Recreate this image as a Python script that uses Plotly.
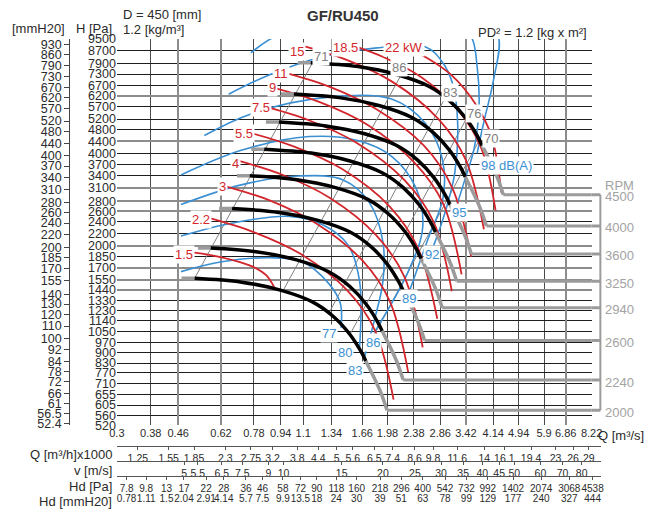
import numpy as np
import plotly.graph_objects as go

# ---------------- data ----------------
H_PA = [9500, 8700, 7900, 7300, 6700, 6200, 5700, 5200, 4800, 4400, 4000, 3700, 3400, 3100,
        2800, 2600, 2400, 2200, 2000, 1850, 1700, 1550, 1440, 1330, 1230, 1140, 1050, 970,
        900, 830, 770, 710, 655, 605, 560, 520]
H_MM = [930, 860, 790, 730, 670, 620, 570, 520, 480, 440, 400, 370, 340, 310, 280, 260, 240,
        220, 200, 185, 170, 155, 140, 130, 120, 110, 100, 92, 84, 78, 72, 66, 61, 56.5, 52.4]
Q_M3S = [0.3, 0.38, 0.46, 0.62, 0.78, 0.94, 1.1, 1.34, 1.66, 1.98, 2.38, 2.86, 3.42, 4.14,
         4.94, 5.9, 6.86, 8.22]
# grid lines drawn heavier and grey
GREY_GRID_PA = [6200, 4400, 3100, 2800, 2600, 2000, 1700, 1550, 1440]
GREY_GRID_Q = [0.46, 0.62, 3.42, 6.86]

Q_M3H = [1.25, 1.55, 1.85, 2.3, 2.75, 3.2, 3.8, 4.4, 5, 5.6, 6.5, 7.4, 8.6, 9.8, 11.6, 14,
         16.1, 19.4, 23, 26, 29]
V_MS = [5, 5.5, 6.5, 7.5, 9, 10, 15, 20, 25, 30, 35, 40, 45, 50, 60, 70, 80]
HD_PA = [7.8, 9.8, 13, 17, 22, 28, 36, 46, 58, 72, 90, 118, 160, 218, 296, 400, 542, 732,
         992, 1402, 2074, 3068, 4538]
HD_MM = [0.78, 1.11, 1.5, 2.04, 2.91, 4.14, 5.7, 7.5, 9.9, 13.5, 18, 24, 30, 39, 51, 63, 78,
         99, 129, 177, 240, 327, 444]
# where the Hd labels sit on the flow scale (m3/s)
HD_AT_Q = [0.321, 0.368, 0.424, 0.479, 0.559, 0.632, 0.738, 0.828, 0.955, 1.079, 1.210, 1.386,
           1.597, 1.880, 2.181, 2.531, 2.958, 3.433, 3.984, 4.752, 5.782, 7.035, 8.277]
V_PER_Q = 10.43    # outlet velocity per m3/s
MMH2O = 9.80665

FAN_RPM = [4500, 4000, 3600, 3250, 2940, 2600, 2240, 2000]
# per curve: [grey start, black 1..8, grey end..]
FAN_Q = [
    [1.06, 1.16, 1.61, 2.11, 2.64, 3.06, 3.43, 3.70, 3.83, 4.23, 4.44],
    [0.942, 1.031, 1.431, 1.876, 2.347, 2.720, 3.049, 3.289, 3.404, 3.760, 3.947],
    [0.848, 0.928, 1.288, 1.688, 2.112, 2.448, 2.744, 2.960, 3.064, 3.384, 3.552],
    [0.766, 0.838, 1.163, 1.524, 1.907, 2.210, 2.477, 2.672, 2.766, 3.055, 3.207],
    [0.693, 0.758, 1.052, 1.378, 1.725, 1.999, 2.241, 2.417, 2.502, 2.763, 2.901],
    [0.612, 0.670, 0.930, 1.219, 1.525, 1.768, 1.982, 2.138, 2.213, 2.444, 2.565],
    [0.528, 0.577, 0.801, 1.050, 1.314, 1.523, 1.707, 1.842, 1.907, 2.106, 2.210],
    [0.471, 0.516, 0.716, 0.938, 1.173, 1.360, 1.524, 1.644, 1.702, 1.880, 1.973],
]
FAN_P = [
    [7950, 7950, 7720, 7275, 6660, 5955, 5212, 4594, 4266, 3415, 2945],
    [6281, 6281, 6100, 5748, 5262, 4705, 4118, 3630, 3371, 2698, 2327],
    [5088, 5088, 4941, 4656, 4262, 3811, 3336, 2940, 2730, 2186, 1885],
    [4147, 4147, 4027, 3795, 3474, 3106, 2719, 2396, 2225, 1781, 1536],
    [3393, 3393, 3295, 3105, 2843, 2542, 2224, 1961, 1821, 1458, 1257],
    [2654, 2654, 2577, 2428, 2223, 1988, 1740, 1533, 1424, 1140, 983],
    [1970, 1970, 1913, 1803, 1650, 1476, 1292, 1138, 1057, 846, 730],
    [1570, 1570, 1525, 1437, 1315, 1176, 1029, 907, 843, 674, 582],
]
BRACKET_Q = 8.74

# absorbed power lines (kW)
KW_LABELS = ["1.5", "2.2", "3", "4", "5.5", "7.5", "9", "11", "15", "18.5", "22 kW"]
KW_Q = [
    [0.492, 0.571, 0.667, 0.774, 0.851, 0.905],
    [0.563, 0.779, 1.079, 1.493, 1.817, 2.066],
    [0.632, 0.874, 1.202, 1.664, 2.011, 2.287],
    [0.690, 0.955, 1.322, 1.829, 2.226, 2.531],
    [0.738, 1.029, 1.443, 2.011, 2.447, 2.802],
    [0.828, 1.154, 1.608, 2.226, 2.727, 3.101],
    [0.886, 1.235, 1.721, 2.382, 2.918, 3.319],
    [0.942, 1.313, 1.829, 2.549, 3.101, 3.551],
    [1.071, 1.483, 2.038, 2.821, 3.410, 3.878],
    [1.503, 1.944, 2.514, 3.252, 3.800, 4.207],
    [2.181, 2.601, 3.101, 3.674, 4.094, 4.380],
]
KW_P = [
    [1916, 1873, 1805, 1714, 1604, 1446],
    [2483, 2223, 1887, 1435, 1058, 630],
    [3148, 2817, 2376, 1792, 1322, 775],
    [3817, 3415, 2879, 2173, 1591, 934],
    [4733, 4234, 3571, 2694, 1973, 1158],
    [5739, 5136, 4330, 3291, 2410, 1424],
    [6607, 5912, 4985, 3761, 2755, 1616],
    [7439, 6656, 5613, 4266, 3125, 1846],
    [9087, 8130, 6907, 5212, 3846, 2271],
    [9154, 8252, 7115, 5530, 4204, 2615],
    [9020, 8252, 7221, 5782, 4560, 2989],
]
KW_LABEL_Q = [0.479, 0.541, 0.628, 0.685, 0.728, 0.817, 0.886, 0.942, 1.050, 1.473, 2.226]
KW_LABEL_P = [1873, 2447, 3125, 3733, 4663, 5655, 6607, 7329, 8627, 8887, 8887]

# noise lines dB(A)
DB_LABELS = ["77", "80", "83", "86", "89", "92", "95", "98 dB(A)"]
DB_Q = [
    [0.469, 0.623, 0.874, 1.093, 1.313, 1.424, 1.433],
    [0.469, 0.667, 1.001, 1.269, 1.503, 1.630, 1.630],
    [0.469, 0.714, 1.071, 1.453, 1.745, 1.918, 1.918, 1.805, 1.686],
    [0.469, 0.714, 1.146, 1.608, 2.038, 2.414, 2.531, 2.287, 1.805],
    [0.552, 0.764, 1.313, 2.038, 2.583, 2.898, 2.918, 2.619, 2.318],
    [0.654, 0.874, 1.227, 1.842, 2.583, 2.898, 3.122, 3.230, 3.165, 2.958, 2.709],
    [0.764, 0.886, 1.071, 1.842, 3.165, 3.551, 3.699, 3.749, 3.624, 3.387, 3.208],
    [1.071, 2.414, 3.878, 4.292, 4.150, 3.878, 3.699],
]
DB_P = [
    [1651, 1778, 1832, 1778, 1511, 1303, 1082],
    [2157, 2376, 2502, 2341, 2018, 1533, 934],
    [2734, 3171, 3390, 3291, 2775, 2063, 1533, 1140, 866],
    [3415, 4111, 4560, 4427, 3932, 3101, 2305, 1651, 1043],
    [4594, 5408, 6135, 6044, 5022, 3874, 2879, 2094, 1446],
    [6272, 7275, 8252, 8887, 8953, 8010, 6755, 5022, 3466, 2577, 1959],
    [8564, 9570, 10307, 10540, 10540, 9642, 7719, 5739, 4172, 3267, 2714],
    [10937, 11350, 10937, 9642, 7010, 5098, 4020],
]
DB_LABEL_Q = [1.313, 1.473, 1.576, 1.792, 2.302, 2.709, 3.252, 3.749]
DB_LABEL_P = [1035, 899, 787, 969, 1352, 1873, 2577, 3677]

# efficiency lines
EFF_LABELS = ["71", "86", "83", "76", "70"]
EFF_Q = [[0.516, 1.20], [0.955, 2.20], [1.314, 2.96], [1.524, 3.43], [1.671, 3.76]]
EFF_P = [[1570, 8300], [1428, 7400], [1205, 6100], [1029, 5212], [879, 4450]]
EFF_LABEL_Q = [1.244, 2.152, 3.060, 3.624, 4.067]
EFF_LABEL_P = [8313, 7661, 6366, 5408, 4493]

# ---------------- layout geometry ----------------
W, H = 662, 515
ML, MR, MT, MB = 5, 5, 39, 5
PW, PH = W - ML - MR, H - MT - MB


def fx(px):
    return (px - ML) / PW


def fy(py):
    return (H - MB - py) / PH


FONT = "Liberation Sans, Arial, sans-serif"
TXT = "#2b2b2b"
RED = "#d3262c"
BLUE = "#3b8fd3"
GREY = "#9b9b9b"
EFFC = "#808080"

XR = [np.log10(0.3), np.log10(8.22)]
YR = [np.log10(520), np.log10(9500)]
XDOM = [fx(112), fx(601)]
YDOM = [fy(431), 1.0]
XROW_END = fx(611)
XROW_R = XR[0] + (XR[1] - XR[0]) * (611 - 112) / (601 - 112)

fig = go.Figure()

for q, p in zip(EFF_Q, EFF_P):
    fig.add_trace(go.Scatter(x=q, y=p, mode="lines", line=dict(color=EFFC, width=1)))

for q, p in zip(DB_Q, DB_P):
    fig.add_trace(go.Scatter(x=q, y=p, mode="lines",
                             line=dict(color=BLUE, width=1.6, shape="spline", smoothing=1)))

for q, p in zip(KW_Q, KW_P):
    fig.add_trace(go.Scatter(x=q, y=p, mode="lines",
                             line=dict(color=RED, width=1.8, shape="spline", smoothing=1)))

for q, p in zip(FAN_Q, FAN_P):
    fig.add_trace(go.Scatter(x=q[0:2], y=p[0:2], mode="lines", line=dict(color=GREY, width=3.5)))
    fig.add_trace(go.Scatter(x=q[8:], y=p[8:], mode="lines",
                             line=dict(color=GREY, width=3.5, shape="spline")))
    fig.add_trace(go.Scatter(x=[q[-1], BRACKET_Q], y=[p[-1], p[-1]], mode="lines",
                             line=dict(color=GREY, width=3)))
    fig.add_trace(go.Scatter(x=q[1:9], y=p[1:9], mode="lines",
                             line=dict(color="black", width=3.5, shape="spline", smoothing=1)))

# empty traces so that the extra axes get drawn
fig.add_trace(go.Scatter(x=[None], y=[None], xaxis="x", yaxis="y2"))
fig.add_trace(go.Scatter(x=[None], y=[None], xaxis="x6", yaxis="y4"))
for ax in ["x2", "x3", "x4", "x5"]:
    fig.add_trace(go.Scatter(x=[None], y=[None], xaxis=ax, yaxis="y3"))

fig.update_traces(showlegend=False, hoverinfo="skip")

ann = []


def dlabel(text, q, p, color, xanchor="center"):
    ann.append(dict(x=np.log10(q), y=np.log10(p), xref="x", yref="y", text=text,
                    showarrow=False, font=dict(color=color, size=13, family=FONT),
                    bgcolor="white", borderpad=1, xanchor=xanchor))


for t, q, p in zip(KW_LABELS, KW_LABEL_Q, KW_LABEL_P):
    dlabel(t, q, p, RED)
for t, q, p in zip(DB_LABELS, DB_LABEL_Q, DB_LABEL_P):
    dlabel(t, q, p, BLUE, "left" if "dB" in t else "center")
for t, q, p in zip(EFF_LABELS, EFF_LABEL_Q, EFF_LABEL_P):
    dlabel(t, q, p, EFFC)

for rpm, p in zip(FAN_RPM, FAN_P):
    ann.append(dict(x=fx(613), y=np.log10(p[-1]), xref="paper", yref="y", text=str(rpm),
                    showarrow=False, xanchor="left", yshift=-2,
                    font=dict(color="#a3a3a3", size=13)))
ann.append(dict(x=fx(613), y=fy(178), xref="paper", yref="paper", text="RPM",
                showarrow=False, xanchor="left", font=dict(color="#a3a3a3", size=13)))


def ptext(text, px, py, xanchor="left", size=13, color=TXT):
    ann.append(dict(x=fx(px), y=fy(py), xref="paper", yref="paper", text=text, showarrow=False,
                    xanchor=xanchor, yanchor="middle", font=dict(size=size, color=color)))


ptext("<b>GF/RU450</b>", 345, 15, "center", 15, "#333")
ptext("D = 450 [mm]", 116, 14)
ptext("1.2 [kg/m³]", 116, 29)
ptext("PD² = 1.2 [kg x m²]", 598, 32, "right")
ptext("[mmH20]", 2, 28)
ptext("H [Pa]", 109, 28, "right")
ptext("Q [m³/s]", 605, 441)
ptext("Q [m³/h]x1000", 109, 461, "right")
ptext("v [m/s]", 109, 477, "right")
ptext("Hd [Pa]", 109, 493, "right")
ptext("Hd [mmH20]", 109, 508, "right")

shapes = []
for p in FAN_P:
    shapes.append(dict(type="line", xref="paper", yref="y", x0=XDOM[1], x1=fx(610),
                       y0=p[-1], y1=p[-1], line=dict(color=GREY, width=3)))
shapes.append(dict(type="line", xref="paper", yref="y", x0=fx(610), x1=fx(610),
                   y0=FAN_P[-1][-1], y1=FAN_P[0][-1], line=dict(color=GREY, width=2)))

row_common = dict(type="log", range=[XR[0], XROW_R], domain=[XDOM[0], XROW_END], anchor="free",
                  showgrid=False, zeroline=False, showline=True, linecolor="#555", linewidth=1,
                  ticks="outside", ticklen=3, tickcolor="#555", tickangle=0,
                  tickfont=dict(size=10.5, color=TXT))
small = dict(size=10, color=TXT)

fig.update_layout(
    width=W, height=H,
    margin=dict(l=ML, r=MR, t=MT, b=MB),
    paper_bgcolor="white", plot_bgcolor="rgba(0,0,0,0)",
    font=dict(family=FONT, color=TXT),
    showlegend=False, hovermode=False,
    xaxis=dict(type="log", range=XR, domain=XDOM, anchor="y",
               tickvals=Q_M3S, ticktext=[str(v) for v in Q_M3S], ticks="", tickangle=0,
               showgrid=True, gridcolor="#4a4a4a", gridwidth=1.1, zeroline=False, showline=False,
               tickfont=dict(size=11, color=TXT)),
    yaxis=dict(type="log", range=YR, domain=YDOM, anchor="x",
               tickvals=H_PA, ticktext=[str(v) for v in H_PA], ticks="",
               showgrid=True, gridcolor="#1e1e1e", gridwidth=1, zeroline=False, showline=False,
               tickfont=dict(size=12.5, color=TXT)),
    # heavier grey grid lines
    xaxis6=dict(type="log", range=XR, domain=XDOM, anchor="y4", overlaying="x",
                tickvals=GREY_GRID_Q, showticklabels=False, ticks="", showgrid=True,
                gridcolor="#8c8c8c", gridwidth=2.2, zeroline=False),
    yaxis4=dict(type="log", range=YR, domain=YDOM, anchor="x6", overlaying="y",
                tickvals=GREY_GRID_PA, showticklabels=False, ticks="", showgrid=True,
                gridcolor="#8c8c8c", gridwidth=2.2, zeroline=False),
    yaxis2=dict(type="log", overlaying="y", anchor="free", position=fx(63), side="left",
                range=[np.log10(51.9), np.log10(9500 / MMH2O)],
                tickvals=H_MM, ticktext=[str(v) for v in H_MM],
                ticks="outside", ticklen=5, tickcolor="#444", showline=True, linecolor="#444",
                linewidth=1.2, showgrid=False, zeroline=False,
                tickfont=dict(size=12.5, color=TXT)),
    yaxis3=dict(domain=[0, 0.01], visible=False, anchor="x2"),
    xaxis2=dict(row_common, position=fy(452),
                tickvals=list(np.array(Q_M3H) / 3.6), ticktext=[str(v) for v in Q_M3H]),
    xaxis3=dict(row_common, position=fy(467),
                tickvals=list(np.array(V_MS) / V_PER_Q), ticktext=[str(v) for v in V_MS]),
    xaxis4=dict(row_common, position=fy(483), tickfont=small,
                tickvals=HD_AT_Q, ticktext=[str(v) for v in HD_PA]),
    xaxis5=dict(row_common, position=fy(498), showline=False, ticks="", tickfont=small,
                tickvals=HD_AT_Q, ticktext=[str(v) for v in HD_MM]),
    annotations=ann,
    shapes=shapes,
)

fig.write_html(
    "out.html",
    config={"displayModeBar": False},
    post_script="var d=document.getElementById('{plot_id}');"
                "d.style.position='fixed';d.style.left='0px';d.style.top='0px';"
                "document.body.style.margin='0';"
                "document.documentElement.style.overflow='hidden';"
                "document.body.style.overflow='hidden';",
)
